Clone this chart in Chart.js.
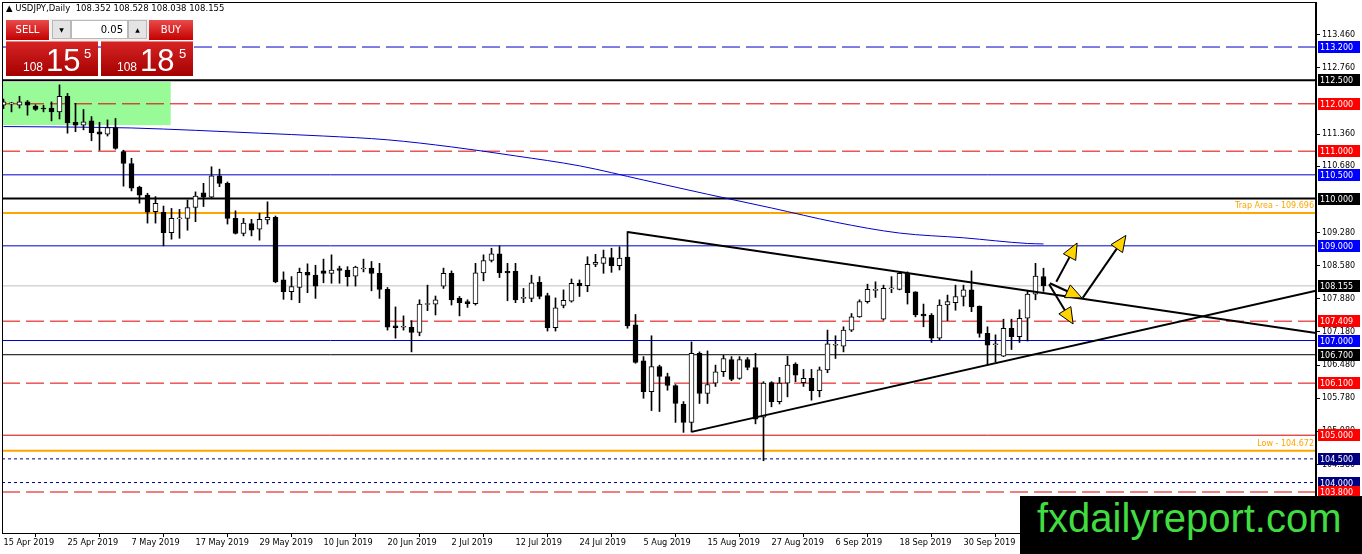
<!DOCTYPE html>
<html>
<head>
<meta charset="utf-8">
<script src="https://cdn.jsdelivr.net/npm/chart.js@4.4.1/dist/chart.umd.min.js"></script>
<style>
html, body { margin: 0; padding: 0; background: #fff; overflow: hidden; }
#wrap { position: relative; width: 1362px; height: 554px; }
#c { position: absolute; left: 0; top: 0; }
#title { position: absolute; left: 6px; top: 3px; font: 8.5px "DejaVu Sans"; color: #000; white-space: pre; }
.btn { position: absolute; top: 20px; height: 20px; background: linear-gradient(#ea4a4a, #c40000); color: #fff;
       font: 10px "DejaVu Sans"; text-align: center; line-height: 20px; }
#sell { left: 6px; width: 43px; }
#buy { left: 149px; width: 44px; }
#spinbg { position: absolute; left: 50px; top: 19px; width: 99px; height: 22px; background: #f0f0f0; }
.spin { position: absolute; top: 20px; width: 19px; height: 19px; background: #e4e4e4; border: 1px solid #b8b8b8;
        box-sizing: border-box; font: 6px "DejaVu Sans"; text-align: center; line-height: 17px; color: #000; }
#dn { left: 52px; }
#up { left: 128px; }
#lot { position: absolute; left: 71px; top: 20px; width: 57px; height: 19px; background: #fff; border: 1px solid #b8b8b8;
       box-sizing: border-box; font: 10px "DejaVu Sans"; text-align: right; padding-right: 4px; line-height: 17px; }
.price { position: absolute; top: 41px; width: 92px; height: 35px; background: linear-gradient(#d62424, #a40000);
         color: #fff; font-family: "Liberation Sans"; border-top: 1px solid #f08080; box-sizing: border-box; }
#p1 { left: 6px; }
#p2 { left: 101px; }
.price span { position: absolute; line-height: 1; }
.sm { font-size: 12px; top: 19px; }
.big { font-size: 31px; top: 3px; }
.sup { font-size: 13px; top: 5px; }
#brand { position: absolute; left: 1020px; top: 496px; width: 342px; height: 58px; background: #000; }
#brand span { position: absolute; left: 17px; top: 2px; font: 40px "Liberation Sans"; line-height: 40px; color: #40dd40; }
</style>
</head>
<body>
<div id="wrap">
  <canvas id="c" width="1362" height="554"></canvas>
  <div id="title">▲ USDJPY,Daily  108.352 108.528 108.038 108.155</div>
  <div id="spinbg"></div>
  <div class="btn" id="sell">SELL</div>
  <div class="spin" id="dn">▼</div>
  <div id="lot">0.05</div>
  <div class="spin" id="up">▲</div>
  <div class="btn" id="buy">BUY</div>
  <div class="price" id="p1"><span class="sm" style="left:17px">108</span><span class="big" style="left:40px">15</span><span class="sup" style="left:78px">5</span></div>
  <div class="price" id="p2"><span class="sm" style="left:16px">108</span><span class="big" style="left:39px">18</span><span class="sup" style="left:78px">5</span></div>
  <div id="brand"><span>fxdailyreport.com</span></div>
</div>
<script>
// date ticks, every 8 bars
const tickLabels = ["15 Apr 2019", "25 Apr 2019", "7 May 2019", "17 May 2019", "29 May 2019", "10 Jun 2019",
  "20 Jun 2019", "2 Jul 2019", "12 Jul 2019", "24 Jul 2019", "5 Aug 2019", "15 Aug 2019", "27 Aug 2019",
  "6 Sep 2019", "18 Sep 2019", "30 Sep 2019"];
const tickIdx = [0, 8, 16, 24, 32, 40, 48, 56, 64, 72, 80, 88, 96, 104, 112, 120];
const priceTicks = [113.46, 112.76, 111.36, 110.68, 109.28, 108.58, 107.88, 107.18,
  106.48, 105.78, 105.08, 104.38];

// daily candles
const opens = [
  111.97, 112.00, 111.97, 112.04, 111.95, 111.90, 111.91, 111.83, 112.16, 111.61,
  111.55, 111.64, 111.41, 111.36, 111.50, 110.99, 110.74, 110.24, 110.07, 109.72,
  109.71, 109.28, 109.57, 109.58, 109.81, 110.12, 110.03, 110.48, 110.32, 109.58,
  109.26, 109.47, 109.35, 109.55, 109.60, 108.28, 108.03, 108.12, 108.44, 108.38,
  108.47, 108.42, 108.52, 108.49, 108.36, 108.51, 108.53, 108.42, 108.08, 107.31,
  107.28, 107.28, 107.17, 107.76, 107.77, 108.15, 108.42, 107.89, 107.82, 107.78,
  108.43, 108.69, 108.83, 108.46, 108.46, 107.89, 107.89, 108.23, 107.95, 107.27,
  107.74, 107.83, 108.21, 108.16, 108.61, 108.63, 108.75, 108.58, 108.76, 107.33,
  106.57, 105.92, 106.45, 106.24, 106.05, 105.65, 105.27, 106.73, 105.88, 106.10,
  106.34, 106.60, 106.20, 106.60, 106.43, 105.38, 106.11, 105.71, 106.10, 106.50,
  106.11, 106.20, 105.94, 106.38, 106.90, 106.88, 107.22, 107.50, 107.82, 108.06,
  107.45, 108.09, 108.08, 108.42, 108.03, 107.56, 107.54, 107.05, 107.75, 107.80,
  107.93, 108.07, 107.73, 107.15, 106.91, 106.67, 107.26, 107.08, 107.47, 107.98,
  108.352];
const highs = [
  112.10, 112.03, 112.16, 112.07, 111.98, 111.97, 112.04, 112.40, 112.22, 112.01,
  111.88, 111.73, 111.61, 111.66, 111.69, 111.02, 110.85, 110.26, 110.11, 110.04,
  109.84, 109.79, 109.77, 109.97, 110.14, 110.32, 110.67, 110.62, 110.35, 109.74,
  109.58, 109.56, 109.69, 109.93, 109.63, 108.45, 108.35, 108.53, 108.62, 108.59,
  108.72, 108.81, 108.57, 108.56, 108.57, 108.72, 108.67, 108.63, 108.12, 107.71,
  107.52, 107.42, 107.86, 108.17, 107.94, 108.53, 108.47, 107.93, 107.86, 108.63,
  108.81, 108.95, 109.00, 108.63, 108.63, 108.10, 108.38, 108.35, 108.00, 107.90,
  108.07, 108.30, 108.28, 108.77, 108.82, 108.91, 108.95, 108.98, 109.30, 107.55,
  106.66, 107.10, 106.48, 106.31, 106.07, 105.71, 106.97, 106.76, 106.78, 106.48,
  106.69, 106.66, 106.66, 106.64, 106.73, 106.13, 106.13, 106.22, 106.67, 106.53,
  106.39, 106.39, 106.44, 107.22, 107.10, 107.29, 107.57, 107.86, 108.19, 108.24,
  108.17, 108.35, 108.45, 108.45, 108.03, 107.77, 107.57, 107.86, 107.96, 108.17,
  108.17, 108.47, 107.73, 107.29, 107.12, 107.45, 107.45, 107.65, 108.05, 108.63,
  108.528];
const lows = [
  111.90, 111.83, 111.91, 111.76, 111.86, 111.83, 111.64, 111.68, 111.38, 111.41,
  111.45, 111.22, 111.02, 111.32, 111.04, 110.26, 110.16, 109.90, 109.48, 109.48,
  109.00, 109.14, 109.16, 109.33, 109.51, 109.83, 110.00, 110.25, 109.46, 109.25,
  109.21, 109.21, 109.12, 109.46, 108.22, 107.87, 107.86, 107.80, 108.01, 107.89,
  108.22, 108.21, 108.21, 108.15, 108.15, 108.45, 108.05, 107.89, 107.22, 107.05,
  107.22, 106.76, 107.10, 107.63, 107.54, 108.10, 107.75, 107.52, 107.70, 107.75,
  108.26, 108.66, 108.33, 107.84, 107.80, 107.80, 107.82, 107.88, 107.20, 107.20,
  107.69, 107.81, 107.93, 108.03, 108.56, 108.42, 108.44, 108.49, 107.26, 106.52,
  105.78, 105.52, 105.50, 105.95, 105.27, 105.06, 105.07, 105.67, 105.67, 106.03,
  106.24, 106.15, 106.18, 106.38, 105.24, 104.46, 105.60, 105.66, 105.81, 106.13,
  106.03, 105.74, 105.81, 106.32, 106.62, 106.76, 107.19, 107.49, 107.79, 107.91,
  107.43, 108.01, 108.07, 107.77, 107.50, 107.29, 106.96, 107.01, 107.42, 107.64,
  107.73, 107.61, 107.07, 106.48, 106.55, 106.66, 106.81, 106.96, 106.99, 107.86,
  108.038];
const closes = [
  112.04, 112.01, 112.04, 111.97, 111.88, 111.89, 111.83, 112.16, 111.60, 111.55,
  111.62, 111.39, 111.36, 111.50, 111.06, 110.74, 110.22, 110.07, 109.71, 109.90,
  109.28, 109.58, 109.58, 109.81, 110.05, 110.03, 110.48, 110.32, 109.58, 109.26,
  109.48, 109.33, 109.56, 109.60, 108.24, 108.03, 108.14, 108.44, 108.38, 108.15,
  108.42, 108.49, 108.48, 108.35, 108.55, 108.52, 108.42, 108.08, 107.28, 107.27,
  107.29, 107.17, 107.77, 107.77, 107.86, 108.42, 107.86, 107.80, 107.78, 108.43,
  108.69, 108.83, 108.43, 108.43, 107.86, 107.90, 108.22, 107.93, 107.27, 107.69,
  107.85, 108.21, 108.16, 108.61, 108.65, 108.75, 108.58, 108.74, 107.31, 106.54,
  105.92, 106.45, 106.24, 106.05, 105.67, 105.27, 106.73, 105.88, 106.07, 106.34,
  106.62, 106.18, 106.60, 106.43, 105.34, 106.10, 105.71, 106.10, 106.48, 106.27,
  106.20, 105.94, 106.38, 106.93, 106.92, 107.22, 107.50, 107.82, 108.08, 108.07,
  108.10, 108.10, 108.42, 108.01, 107.54, 107.52, 107.05, 107.75, 107.82, 107.93,
  108.07, 107.71, 107.15, 106.90, 106.92, 107.26, 107.08, 107.47, 107.98, 108.36,
  108.155];

// moving average, read at every 8th bar
const maIdx = [0, 8, 16, 24, 32, 40, 48, 56, 64, 72, 80, 88, 96, 104, 112, 120, 128, 130];
const maVals = [111.52, 111.51, 111.49, 111.44, 111.38, 111.32, 111.24, 111.09, 110.90, 110.69,
  110.39, 110.09, 109.80, 109.50, 109.27, 109.17, 109.05, 109.04];

// horizontal levels
const levels = [113.2, 112.5, 112.0, 111.0, 110.5, 110.0, 109.696, 109.0, 108.155, 107.409,
  107.0, 106.7, 106.1, 105.0, 104.672, 104.5, 104.0, 103.8];
const levelNotes = { 6: "Trap Area - 109.696", 14: "Low - 104.672" };

// trendlines [bar, price] and arrows [bar0, price0, bar1, price1]
const trendDown = [[78, 109.29], [164.06, 107.16]];
const trendUp = [[86, 105.07], [164.06, 108.05]];
const arrows = [
  [131.6, 108.24, 134.2, 109.06],
  [130.8, 108.21, 134.8, 107.90],
  [130.7, 108.19, 133.7, 107.35],
  [134.9, 107.90, 140.3, 109.22]
];
const zone = [-0.1875, 20.9, 112.46, 111.55];

const X_MIN = -0.1875, X_MAX = 164.0625;
const Y_MIN = 102.934, Y_MAX = 114.151;

const BLUE = "#0000cd", RED = "#e00000", ORANGE = "#ffa500";
const levelStyle = [
  { line: BLUE, box: "#0000ff", w: 1, dash: [18, 6] },
  { line: "#000", box: "#000", w: 2, dash: [] },
  { line: RED, box: "#ff0000", w: 1, dash: [18, 6] },
  { line: RED, box: "#ff0000", w: 1, dash: [18, 6] },
  { line: BLUE, box: "#0000ff", w: 1, dash: [] },
  { line: "#000", box: "#000", w: 2, dash: [] },
  { line: ORANGE, box: null, w: 2, dash: [] },
  { line: BLUE, box: "#0000ff", w: 1, dash: [] },
  { line: "#c0c0c0", box: "#000", w: 1, dash: [] },
  { line: RED, box: "#ff0000", w: 1, dash: [18, 6] },
  { line: BLUE, box: "#0000ff", w: 1, dash: [] },
  { line: "#000", box: "#000", w: 1, dash: [] },
  { line: RED, box: "#ff0000", w: 1, dash: [18, 6] },
  { line: "#d00000", box: "#ff0000", w: 1, dash: [] },
  { line: ORANGE, box: null, w: 2, dash: [] },
  { line: "#000080", box: "#000080", w: 1, dash: [3, 3] },
  { line: "#000080", box: "#000080", w: 1, dash: [3, 3] },
  { line: RED, box: "#ff0000", w: 1, dash: [18, 6] }
];

const FONT = "DejaVu Sans";
Chart.defaults.font.family = FONT;

const rising = opens.map((o, i) => closes[i] >= o);

const datasets = [];

levels.forEach((v, k) => {
  const s = levelStyle[k];
  datasets.push({
    type: "line",
    data: [{ x: X_MIN, y: v }, { x: X_MAX, y: v }],
    borderColor: s.line,
    borderWidth: s.w,
    borderDash: s.dash,
    pointRadius: 0,
    order: 5
  });
});

datasets.push({
  type: "line",
  data: maIdx.map((b, k) => ({ x: b, y: maVals[k] })),
  borderColor: BLUE,
  borderWidth: 1,
  pointRadius: 0,
  cubicInterpolationMode: "monotone",
  order: 4
});

// wicks
datasets.push({
  type: "bar",
  data: opens.map((o, i) => ({ x: i, y: [lows[i], highs[i]] })),
  backgroundColor: "#000",
  borderWidth: 0,
  barThickness: 1,
  grouped: false,
  order: 3
});

// bodies
datasets.push({
  type: "bar",
  data: opens.map((o, i) => ({ x: i, y: [o, closes[i]] })),
  backgroundColor: rising.map(r => r ? "#fff" : "#000"),
  borderColor: "#000",
  borderWidth: 1,
  borderSkipped: false,
  barThickness: 5,
  minBarLength: 1,
  grouped: false,
  order: 2
});

[trendDown, trendUp].forEach(t => {
  datasets.push({
    type: "line",
    data: t.map(p => ({ x: p[0], y: p[1] })),
    borderColor: "#000",
    borderWidth: 2,
    pointRadius: 0,
    order: 1
  });
});

const overlay = {
  id: "overlay",
  beforeDatasetsDraw(chart) {
    const { ctx, scales: { x, y } } = chart;
    const x0 = x.getPixelForValue(zone[0]), x1 = x.getPixelForValue(zone[1]);
    const y0 = y.getPixelForValue(zone[2]), y1 = y.getPixelForValue(zone[3]);
    ctx.save();
    ctx.fillStyle = "#98fb98";
    ctx.fillRect(x0, y0, x1 - x0, y1 - y0);
    ctx.restore();
  },
  afterDatasetsDraw(chart) {
    const { ctx, scales: { x, y } } = chart;
    ctx.save();
    arrows.forEach(a => {
      const px0 = x.getPixelForValue(a[0]), py0 = y.getPixelForValue(a[1]);
      const px1 = x.getPixelForValue(a[2]), py1 = y.getPixelForValue(a[3]);
      const ang = Math.atan2(py1 - py0, px1 - px0);
      const len = 16, half = 7;
      const bx = px1 - Math.cos(ang) * len, by = py1 - Math.sin(ang) * len;
      ctx.strokeStyle = "#000";
      ctx.lineWidth = 2;
      ctx.beginPath();
      ctx.moveTo(px0, py0);
      ctx.lineTo(bx, by);
      ctx.stroke();
      ctx.beginPath();
      ctx.moveTo(px1, py1);
      ctx.lineTo(bx + Math.sin(ang) * half, by - Math.cos(ang) * half);
      ctx.lineTo(bx - Math.sin(ang) * half, by + Math.cos(ang) * half);
      ctx.closePath();
      ctx.fillStyle = "#ffd400";
      ctx.fill();
      ctx.lineWidth = 1;
      ctx.stroke();
    });
    ctx.restore();
  },
  afterDraw(chart) {
    const { ctx, chartArea: a, scales: { y } } = chart;
    ctx.save();
    ctx.strokeStyle = "#000";
    ctx.lineWidth = 1;
    ctx.strokeRect(a.left + 0.5, a.top + 0.5, a.right - a.left - 1, a.bottom - a.top);
    ctx.font = "8px " + FONT;
    ctx.textBaseline = "middle";
    levels.forEach((v, k) => {
      const py = y.getPixelForValue(v);
      const s = levelStyle[k];
      if (s.box) {
        ctx.fillStyle = s.box;
        ctx.fillRect(a.right + 2, Math.round(py) - 6, 42, 12);
        ctx.fillStyle = "#fff";
        ctx.textAlign = "left";
        ctx.fillText(v.toFixed(3), a.right + 4, Math.round(py) + 0.5);
      }
      if (levelNotes[k]) {
        ctx.fillStyle = ORANGE;
        ctx.textAlign = "right";
        ctx.fillText(levelNotes[k], a.right - 2, py - 7);
      }
    });
    ctx.restore();
  }
};

new Chart(document.getElementById("c"), {
  type: "bar",
  data: { datasets: datasets },
  plugins: [overlay],
  options: {
    responsive: false,
    animation: false,
    devicePixelRatio: 1,
    events: [],
    layout: { padding: { left: 2, top: 2, right: 0, bottom: 0 } },
    plugins: { legend: { display: false }, tooltip: { enabled: false } },
    scales: {
      x: {
        type: "linear",
        min: X_MIN,
        max: X_MAX,
        offset: false,
        afterBuildTicks: s => { s.ticks = tickIdx.map(v => ({ value: v })); },
        afterFit: s => { s.height = 21; s.paddingLeft = 0; s.paddingRight = 0; },
        grid: { drawOnChartArea: false, drawTicks: true, tickLength: 4, color: "#000" },
        border: { display: true, color: "#000", width: 1 },
        ticks: {
          autoSkip: false, maxRotation: 0, align: "start", padding: 1, color: "#000",
          font: { family: FONT, size: 8.2 },
          callback: (v, i) => tickLabels[i]
        }
      },
      y: {
        position: "right",
        min: Y_MIN,
        max: Y_MAX,
        afterBuildTicks: s => { s.ticks = priceTicks.map(v => ({ value: v })); },
        afterFit: s => { s.width = 46; s.paddingTop = 0; s.paddingBottom = 0; },
        grid: { drawOnChartArea: false, tickLength: 4, color: "#000" },
        border: { display: true, color: "#000", width: 1 },
        ticks: {
          autoSkip: false, padding: 2, color: "#000",
          font: { family: FONT, size: 8 },
          callback: v => v.toFixed(3)
        }
      }
    }
  }
});
</script>
</body>
</html>
